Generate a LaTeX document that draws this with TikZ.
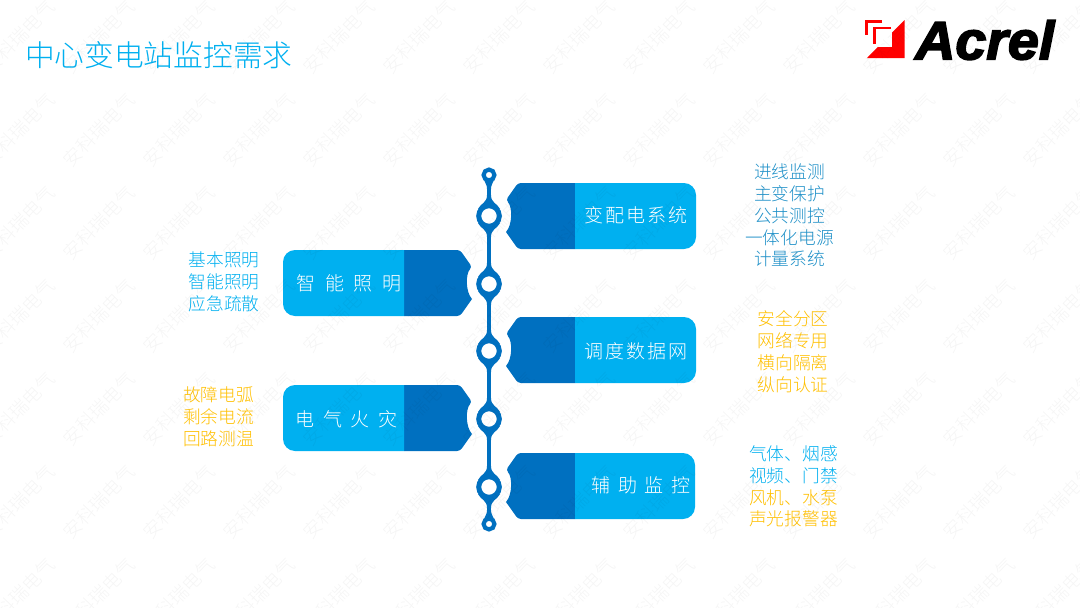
\documentclass[tikz,border=0pt]{standalone}
\usepackage{fontspec}
\setmainfont{Noto Sans CJK SC Light}
\newfontfamily\logofont[FakeBold=3]{Liberation Sans Bold Italic}
\lineskiplimit=-20pt\relax
\definecolor{lightb}{HTML}{00B0F0}
\definecolor{darkb}{HTML}{0070C0}
\definecolor{sideb}{HTML}{1E90C8}
\definecolor{gold}{HTML}{FFC000}
\definecolor{logored}{HTML}{FF0000}
\tikzset{
  spine/.style={draw=darkb,line width=4pt},
  flare/.style={fill=darkb,draw=none},
  ring/.style={circle,draw=darkb,fill=white,line width=5pt,minimum size=20.6pt,inner sep=0pt,outer sep=0pt},
  endring/.style={circle,draw=darkb,fill=white,line width=4.2pt,minimum size=10.8pt,inner sep=0pt,outer sep=0pt},
  boxlabel/.style={text=white,inner sep=0pt,font=\fontsize{19}{22}\selectfont},
  sidelabel/.style={align=center,inner sep=0pt,font=\fontsize{17.7}{21.8}\selectfont},
  mark wm/.style={text=black,opacity=.04,rotate=46,inner sep=0pt,font=\fontsize{18.5}{20}\selectfont},
}
% right box: #1 = centre y, #2 = right edge
\newcommand\rightbox[2]{%
  \fill[darkb] (575,#1-33) [rounded corners=3pt] -- (518,#1-33) -- (506,#1-16) [sharp corners]
     .. controls (512.5,#1-9) and (512.5,#1+9) .. (506,#1+16) [rounded corners=3pt] -- (518,#1+33) [sharp corners] -- (575,#1+33) -- cycle;
  \fill[lightb] (575,#1-33) [rounded corners=12pt] -- (#2,#1-33) -- (#2,#1+33) [sharp corners] -- (575,#1+33) -- cycle;
}
% left box: #1 = centre y
\newcommand\leftbox[1]{%
  \fill[darkb] (404,#1-33) [rounded corners=3pt] -- (460,#1-33) -- (472,#1-16) [sharp corners]
     .. controls (465.5,#1-9) and (465.5,#1+9) .. (472,#1+16) [rounded corners=3pt] -- (460,#1+33) [sharp corners] -- (404,#1+33) -- cycle;
  \fill[lightb] (404,#1-33) [rounded corners=12pt] -- (283,#1-33) -- (283,#1+33) [sharp corners] -- (404,#1+33) -- cycle;
}
\newcommand\neck[1]{%
  \fill[flare] (487,#1-21) .. controls (487,#1-13) and (481,#1-13) .. (478,#1-7) -- (500,#1-7) .. controls (497,#1-13) and (491,#1-13) .. (491,#1-21) -- cycle;
  \fill[flare] (487,#1+21) .. controls (487,#1+13) and (481,#1+13) .. (478,#1+7) -- (500,#1+7) .. controls (497,#1+13) and (491,#1+13) .. (491,#1+21) -- cycle;
}
\begin{document}
\begin{tikzpicture}[x=1pt,y=-1pt]
\useasboundingbox (0,0) rectangle (1080,608);
\fill[white] (0,0) rectangle (1080,608);

% title
\node[anchor=west,inner sep=0pt,text=lightb,font=\fontsize{29.7}{32}\selectfont] (title) at (25,55) {中心变电站监控需求};

% logo
\fill[logored] (904.5,20) -- (867,58) -- (904.5,58) -- cycle;
\draw[logored,line width=2.6pt] (882,21.3) -- (866.3,21.3) -- (866.3,35);
\draw[logored,line width=2.6pt] (891,28) -- (874.5,28) -- (874.5,44);
\fill[white] (877,32) rectangle (892,47);
\node[anchor=west,inner sep=0pt,text=black,xscale=1.03,transform shape,font=\logofont\fontsize{54}{56}\selectfont] (acrel) at (915,40) {Acrel};

% boxes
\rightbox{216}{696}
\rightbox{350}{696}
\rightbox{486}{695}
\leftbox{283}
\leftbox{418}

% spine
\neck{216}\neck{284}\neck{351}\neck{419}\neck{487}
\fill[flare] (484.5,181) .. controls (485.5,184) and (487,185) .. (487,189) -- (491,189) .. controls (491,185) and (492.5,184) .. (493.5,181) -- cycle;
\fill[flare] (484.5,518) .. controls (485.5,515) and (487,514) .. (487,510) -- (491,510) .. controls (491,514) and (492.5,515) .. (493.5,518) -- cycle;
\node[endring] (top) at (489,175) {};
\node[ring] (c1) at (489,216) {};
\node[ring] (c2) at (489,284) {};
\node[ring] (c3) at (489,351) {};
\node[ring] (c4) at (489,419) {};
\node[ring] (c5) at (489,487) {};
\node[endring] (bot) at (489,524) {};
\draw[spine,shorten <=2pt] (top) -- (c1);
\draw[spine] (c1) -- (c2);
\draw[spine] (c2) -- (c3);
\draw[spine] (c3) -- (c4);
\draw[spine] (c4) -- (c5);
\draw[spine,shorten >=2pt] (c5) -- (bot);

% box labels
\node[boxlabel] (l1) at (636,215) {\addfontfeature{LetterSpace=10}变配电系统};
\node[boxlabel] (l2) at (636,351) {\addfontfeature{LetterSpace=10}调度数据网};
\node[boxlabel] (l3) at (641,485) {\addfontfeature{LetterSpace=40}辅助监控};
\node[boxlabel] (l4) at (349,283) {\addfontfeature{LetterSpace=50}智能照明};
\node[boxlabel] (l5) at (346.5,419) {\addfontfeature{LetterSpace=45}电气火灾};

% side labels
\node[sidelabel,text=sideb] (s1) at (789.5,215.5) {进线监测\\主变保护\\公共测控\\一体化电源\\计量系统};
\node[sidelabel,text=gold] (s2) at (793,351.5) {安全分区\\网络专用\\横向隔离\\纵向认证};
\node[sidelabel] (s3) at (793.5,486.5) {\textcolor{lightb}{气体、烟感}\\\textcolor{lightb}{视频、门禁}\\\textcolor{gold}{风机、水泵}\\\textcolor{gold}{声光报警器}};
\node[sidelabel,text=lightb] (s4) at (224,282) {基本照明\\智能照明\\应急疏散};
\node[sidelabel,text=gold] (s5) at (218.5,417) {故障电弧\\剩余电流\\回路测温};

% watermark
\foreach \r in {0,...,6}
  \foreach \k in {-1,...,13}
    \node[mark wm] (w\r-\k) at ({19+80*\k},{37+93*\r}) {安科瑞电气};
\end{tikzpicture}
\end{document}
